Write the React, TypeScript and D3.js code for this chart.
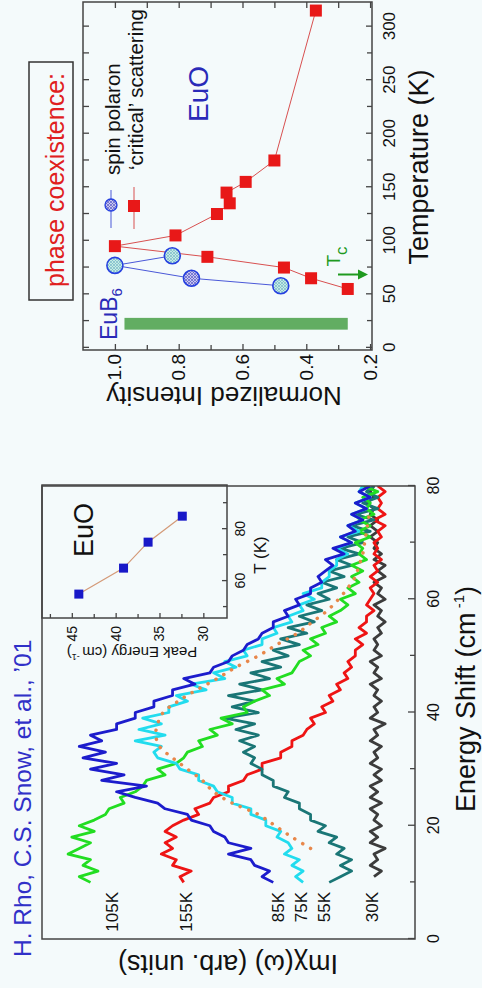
import React, { useEffect, useRef } from "react";
import * as d3 from "d3";

// ---- left panel: Raman spectra (Energy shift in cm-1) ----
const shift = [10, 11, 12, 13, 14, 15, 16, 17, 18, 19, 20, 21, 22, 23, 24, 25, 26, 27, 28, 29, 30,
  31, 32, 33, 34, 35, 36, 37, 38, 39, 40, 41, 42, 43, 44, 45, 46, 47, 48, 49, 50,
  51, 52, 53, 54, 55, 56, 57, 58, 59, 60, 61, 62, 63, 64, 65, 66, 67, 68, 69, 70,
  71, 72, 73, 74, 75, 76, 77, 78, 79, 80];

const int105 = [87, 90, 85, 89, 87, 93, 90, 87, 92, 86, 90, 86, 83, 82, 78, 79, 75, 73, 72, 67, 69,
  64, 62, 61, 57, 58, 53, 55, 49, 52, 45, 46, 43, 39, 41, 35, 37, 33, 32, 31, 28,
  30, 26, 28, 24, 25, 21, 23, 20, 18, 20, 16, 18, 15, 17, 14, 17, 13, 15, 14, 16,
  12, 15, 12, 15, 11, 13, 12, 14, 10, 14];
const int155 = [62, 63, 60, 65, 64, 68, 65, 67, 64, 67, 65, 62, 58, 59, 55, 54, 50, 50, 46, 45, 41,
  41, 36, 36, 33, 33, 30, 29, 27, 28, 24, 25, 22, 23, 20, 21, 18, 19, 17, 18, 16,
  16, 14, 16, 13, 15, 13, 13, 11, 13, 12, 11, 12, 10, 12, 10, 11, 9, 11, 10, 11,
  9, 10, 8, 11, 8, 10, 9, 10, 8, 10];
const int85 = [38, 41, 39, 43, 44, 50, 44, 50, 51, 54, 55, 60, 61, 67, 69, 75, 80, 72, 84, 78, 87,
  80, 89, 83, 90, 84, 87, 80, 80, 75, 75, 70, 70, 65, 65, 59, 62, 55, 54, 50, 49,
  46, 45, 42, 41, 38, 38, 34, 35, 31, 32, 28, 28, 25, 26, 24, 22, 24, 19, 22, 17,
  20, 16, 18, 14, 17, 13, 16, 12, 15, 12];
const int75 = [30, 32, 30, 33, 31, 35, 33, 34, 37, 36, 40, 40, 44, 44, 49, 49, 53, 54, 58, 58, 63,
  64, 69, 70, 68, 75, 67, 74, 68, 73, 66, 66, 61, 64, 56, 60, 51, 54, 48, 51, 45,
  46, 41, 41, 37, 38, 33, 34, 30, 31, 27, 30, 25, 25, 23, 23, 21, 21, 18, 21, 17,
  20, 15, 18, 14, 17, 13, 16, 12, 15, 14];
const int55 = [23, 20, 17, 20, 17, 21, 19, 23, 21, 26, 24, 28, 28, 31, 31, 35, 34, 38, 38, 41, 41,
  44, 43, 46, 43, 47, 42, 48, 43, 51, 42, 49, 43, 50, 41, 47, 39, 44, 36, 41, 34,
  38, 31, 36, 29, 34, 27, 31, 25, 29, 23, 26, 21, 25, 19, 23, 17, 21, 15, 20, 14,
  18, 12, 17, 11, 16, 10, 14, 10, 13, 11];
const shift30 = shift.slice(1);
const int30 = [11, 9, 12, 10, 11, 8, 12, 10, 12, 9, 11, 10, 12, 9, 12, 10, 12, 9, 11, 9,
  12, 10, 11, 9, 12, 10, 11, 8, 12, 10, 11, 9, 11, 10, 12, 9, 11, 10, 12, 9,
  11, 10, 11, 9, 10, 8, 10, 9, 11, 8, 10, 9, 11, 8, 10, 8, 11, 9, 11, 10,
  12, 10, 12, 10, 12, 11, 13, 11, 12, 11];

const peakShift = [16, 18, 20, 22, 24, 26, 28, 30, 32, 34, 36, 38, 40, 42, 44, 46, 48, 50, 52, 54,
  56, 58, 60, 62, 64, 66, 68, 70, 72, 74, 76];
const peakInt = [28, 33, 37.5, 42, 49, 54, 57, 61, 65, 68.5, 69.5, 69, 67.5, 63.5, 58.5, 53, 48, 42, 37, 31.5,
  27.5, 23.5, 20.5, 18, 16, 15, 14, 13.5, 13, 12.5, 12];

const shiftTicks = [0, 20, 40, 60, 80];
const shiftMinor = [10, 30, 50, 70];

// inset: peak energy vs T
const insetT = [55, 65, 75, 85];
const insetPeak = [44.2, 39.1, 36.3, 32.4];
const insetTTicks = [60, 80];
const insetTMinor = [50, 70, 90];
const insetETicks = [45, 40, 35, 30];
const insetEMinor = [47.5, 42.5, 37.5, 32.5];

// ---- right panel: normalized intensity vs temperature ----
const critT = [55, 65, 75, 85, 95, 105, 125, 135, 145, 155, 175, 315];
const critI = [0.27, 0.385, 0.47, 0.71, 1.0, 0.81, 0.68, 0.64, 0.65, 0.59, 0.5, 0.37];
const polT = [58, 65, 77, 86];
const polI = [0.48, 0.76, 1.0, 0.82];
const polDark = [false, true, false, false];
const bandT = [17, 28];
const bandI = [0.27, 0.97];
const tcT = 68.5;
const tempTicks = [0, 50, 100, 150, 200, 250, 300];
const tempMinor = [25, 75, 125, 175, 225, 275];
const intTicks = [1.0, 0.8, 0.6, 0.4, 0.2];
const intMinor = [0.9, 0.7, 0.5, 0.3];

const FONT = "'Liberation Sans', Arial, Helvetica, sans-serif";

export default function App() {
  const ref = useRef<SVGSVGElement>(null);

  useEffect(() => {
    const W = 482;
    const H = 988;
    const svg = d3.select(ref.current);
    svg.selectAll("*").remove();
    svg.append("rect").attr("width", W).attr("height", H).attr("fill", "#f4fafb");

    const defs = svg.append("defs");
    const pat = (id: string, bg: string, ln: string) => {
      const p = defs.append("pattern").attr("id", id).attr("patternUnits", "userSpaceOnUse")
        .attr("width", 3).attr("height", 3);
      p.append("rect").attr("width", 3).attr("height", 3).attr("fill", bg);
      p.append("path").attr("d", "M0,0L3,3M3,0L0,3").attr("stroke", ln).attr("stroke-width", 0.7);
    };
    pat("hatchLight", "#c4ece4", "#7ab8c8");
    pat("hatchDark", "#c8c8ee", "#5a5ac8");

    // whole figure is laid out landscape (988 x 482) and turned a quarter turn
    const g = svg.append("g").attr("transform", `translate(0,${H}) rotate(-90)`)
      .attr("font-family", FONT);

    // ================= left panel =================
    const x = d3.scaleLinear().domain([0, 80]).range([49, 502]);
    const y = d3.scaleLinear().domain([0, 100]).range([415, 42]);

    defs.append("clipPath").attr("id", "mainClip").append("rect")
      .attr("x", 49).attr("y", 42).attr("width", 453).attr("height", 373);

    const line = d3.line<[number, number]>().x(d => x(d[0])).y(d => y(d[1]));

    const series = [
      { e: shift30, v: int30, color: "#3c3c3c" },
      { e: shift, v: int155, color: "#ee1414" },
      { e: shift, v: int55, color: "#1a7676" },
      { e: shift, v: int105, color: "#22dd22" },
      { e: shift, v: int75, color: "#22dcee" },
      { e: shift, v: int85, color: "#1c1ccc" },
    ];
    series.forEach(s => {
      g.append("path")
        .datum(s.e.map((e, i) => [e, s.v[i]] as [number, number]))
        .attr("d", line)
        .attr("fill", "none")
        .attr("stroke", s.color)
        .attr("stroke-width", 2.8)
        .attr("stroke-linejoin", "round")
        .attr("clip-path", "url(#mainClip)");
    });

    g.append("path")
      .datum(peakShift.map((e, i) => [e, peakInt[i]] as [number, number]))
      .attr("d", line.curve(d3.curveCatmullRom))
      .attr("fill", "none")
      .attr("stroke", "#e8874a")
      .attr("stroke-width", 3.5)
      .attr("stroke-linecap", "round")
      .attr("stroke-dasharray", "0.1,9");

    // inset box (drawn over curves)
    const ix = d3.scaleLinear().domain([45.8, 97]).range([370, 503]);
    const iy = d3.scaleLinear().domain([27.3, 48.4]).range([227, 42]);
    g.append("rect").attr("x", 370).attr("y", 42).attr("width", 133).attr("height", 185)
      .attr("fill", "#f4fafb").attr("stroke", "#444").attr("stroke-width", 1.5);

    // main frame
    g.append("rect").attr("x", 49).attr("y", 42).attr("width", 453).attr("height", 373)
      .attr("fill", "none").attr("stroke", "#444").attr("stroke-width", 1.5);

    const styleAxis = (ax: d3.Selection<SVGGElement, unknown, null, undefined>, size: number) => {
      ax.select(".domain").remove();
      ax.attr("font-family", FONT).attr("font-size", size);
      ax.selectAll("line").attr("stroke", "#444").attr("stroke-width", 1.3);
      ax.selectAll("text").attr("fill", "#111");
    };

    const xAx = g.append("g").attr("transform", "translate(0,415)")
      .call(d3.axisBottom(x).tickValues(shiftTicks).tickSizeInner(-7).tickSizeOuter(0).tickPadding(13));
    styleAxis(xAx, 16);
    const xAxM = g.append("g").attr("transform", "translate(0,415)")
      .call(d3.axisBottom(x).tickValues(shiftMinor).tickSizeInner(-5).tickSizeOuter(0).tickFormat(() => ""));
    styleAxis(xAxM, 16);

    const title = g.append("text").attr("x", 289).attr("y", 475).attr("text-anchor", "middle")
      .attr("font-size", 27).attr("fill", "#111");
    title.append("tspan").text("Energy Shift (cm");
    title.append("tspan").attr("dy", -11).attr("font-size", 15).text(" -1");
    title.append("tspan").attr("dy", 11).text(")");

    g.append("text").attr("transform", "translate(33,228) rotate(-90)").attr("text-anchor", "middle")
      .attr("font-size", 27).attr("fill", "#111").text("Imχ(ω) (arb. units)");

    g.append("text").attr("x", 31).attr("y", 31).attr("font-size", 24.5).attr("fill", "#3030c8")
      .text("H. Rho, C.S. Snow, et al., \u201901");

    const curveLabels = [
      { t: "105K", y: 118 }, { t: "155K", y: 192 }, { t: "85K", y: 284 },
      { t: "75K", y: 307 }, { t: "55K", y: 330 }, { t: "30K", y: 378 },
    ];
    curveLabels.forEach(l => {
      g.append("text").attr("x", 96).attr("y", l.y).attr("text-anchor", "end")
        .attr("font-size", 17).attr("fill", "#111").text(l.t);
    });

    // inset contents
    const iLine = d3.line<[number, number]>().x(d => ix(d[0])).y(d => iy(d[1]));
    g.append("path").datum(insetT.map((t, i) => [t, insetPeak[i]] as [number, number]))
      .attr("d", iLine).attr("fill", "none").attr("stroke", "#d49a78").attr("stroke-width", 1.2);
    insetT.forEach((t, i) => {
      g.append("rect").attr("x", ix(t) - 4.5).attr("y", iy(insetPeak[i]) - 4.5)
        .attr("width", 9).attr("height", 9).attr("fill", "#1818c8");
    });
    const ixAx = g.append("g").attr("transform", "translate(0,227)")
      .call(d3.axisBottom(ix).tickValues(insetTTicks).tickSizeInner(-5).tickSizeOuter(0).tickPadding(8));
    styleAxis(ixAx, 14);
    const ixAxM = g.append("g").attr("transform", "translate(0,227)")
      .call(d3.axisBottom(ix).tickValues(insetTMinor).tickSizeInner(-4).tickSizeOuter(0).tickFormat(() => ""));
    styleAxis(ixAxM, 14);
    const iyAx = g.append("g").attr("transform", "translate(370,0)")
      .call(d3.axisLeft(iy).tickValues(insetETicks).tickSizeInner(-5).tickSizeOuter(0).tickPadding(8));
    styleAxis(iyAx, 14);
    const iyAxM = g.append("g").attr("transform", "translate(370,0)")
      .call(d3.axisLeft(iy).tickValues(insetEMinor).tickSizeInner(-4).tickSizeOuter(0).tickFormat(() => ""));
    styleAxis(iyAxM, 14);

    g.append("text").attr("x", 433).attr("y", 266).attr("text-anchor", "middle")
      .attr("font-size", 17).attr("fill", "#111").text("T (K)");
    const pk = g.append("text").attr("transform", "translate(341,132) rotate(-90)")
      .attr("text-anchor", "middle").attr("font-size", 15).attr("fill", "#111");
    pk.append("tspan").text("Peak Energy (cm");
    pk.append("tspan").attr("dy", -7).attr("font-size", 9).text("  -1");
    pk.append("tspan").attr("dy", 7).text(")");
    g.append("text").attr("x", 431).attr("y", 93).attr("font-size", 27).attr("fill", "#111").text("EuO");

    // ================= right panel =================
    const tx = d3.scaleLinear().domain([-2, 323]).range([638, 986]);
    const ny = d3.scaleLinear().domain([0.194, 1.1]).range([372, 83]);

    g.append("rect").attr("x", tx(bandT[0])).attr("y", ny(bandI[1]))
      .attr("width", tx(bandT[1]) - tx(bandT[0])).attr("height", ny(bandI[0]) - ny(bandI[1]))
      .attr("fill", "#62ad62");

    g.append("rect").attr("x", 638).attr("y", 83).attr("width", 348).attr("height", 289)
      .attr("fill", "none").attr("stroke", "#444").attr("stroke-width", 1.5);

    const tAx = g.append("g").attr("transform", "translate(0,372)")
      .call(d3.axisBottom(tx).tickValues(tempTicks).tickSizeInner(-6).tickSizeOuter(0).tickPadding(11));
    styleAxis(tAx, 17);
    const tAxM = g.append("g").attr("transform", "translate(0,372)")
      .call(d3.axisBottom(tx).tickValues(tempMinor).tickSizeInner(-5).tickSizeOuter(0).tickFormat(() => ""));
    styleAxis(tAxM, 17);
    const tAxTop = g.append("g").attr("transform", "translate(0,83)")
      .call(d3.axisTop(tx).tickValues([...tempTicks, ...tempMinor]).tickSizeInner(-6).tickSizeOuter(0).tickFormat(() => ""));
    styleAxis(tAxTop, 17);
    const nAx = g.append("g").attr("transform", "translate(638,0)")
      .call(d3.axisLeft(ny).tickValues(intTicks).tickSizeInner(-6).tickSizeOuter(0).tickPadding(4)
        .tickFormat(d3.format(".1f") as any));
    styleAxis(nAx, 19);
    const nAxM = g.append("g").attr("transform", "translate(638,0)")
      .call(d3.axisLeft(ny).tickValues(intMinor).tickSizeInner(-5).tickSizeOuter(0).tickFormat(() => ""));
    styleAxis(nAxM, 19);
    const nAxR = g.append("g").attr("transform", "translate(986,0)")
      .call(d3.axisRight(ny).tickValues([...intTicks, ...intMinor]).tickSizeInner(-6).tickSizeOuter(0).tickFormat(() => ""));
    styleAxis(nAxR, 19);

    g.append("text").attr("x", 821).attr("y", 428).attr("text-anchor", "middle")
      .attr("font-size", 27).attr("fill", "#111").text("Temperature (K)");
    g.append("text").attr("transform", "translate(601,224) rotate(-90)").attr("text-anchor", "middle")
      .attr("font-size", 26).attr("fill", "#111").text("Normalized Intensity");

    const cLine = d3.line<[number, number]>().x(d => tx(d[0])).y(d => ny(d[1]));
    g.append("path").datum(critT.map((t, i) => [t, critI[i]] as [number, number]))
      .attr("d", cLine).attr("fill", "none").attr("stroke", "#d85050").attr("stroke-width", 1);
    g.append("path").datum(polT.map((t, i) => [t, polI[i]] as [number, number]))
      .attr("d", cLine).attr("fill", "none").attr("stroke", "#4a58d8").attr("stroke-width", 1);

    critT.forEach((t, i) => {
      g.append("rect").attr("x", tx(t) - 6).attr("y", ny(critI[i]) - 6)
        .attr("width", 12).attr("height", 12).attr("fill", "#e81818");
    });
    polT.forEach((t, i) => {
      g.append("circle").attr("cx", tx(t)).attr("cy", ny(polI[i])).attr("r", 8)
        .attr("fill", polDark[i] ? "url(#hatchDark)" : "url(#hatchLight)")
        .attr("stroke", "#2640e0").attr("stroke-width", 1.6);
    });

    // legend
    g.append("line").attr("x1", 760).attr("x2", 798).attr("y1", 111).attr("y2", 111)
      .attr("stroke", "#4a58d8").attr("stroke-width", 1);
    g.append("circle").attr("cx", 783).attr("cy", 111).attr("r", 6)
      .attr("fill", "url(#hatchDark)").attr("stroke", "#2640e0").attr("stroke-width", 1.3);
    g.append("line").attr("x1", 759).attr("x2", 801).attr("y1", 134).attr("y2", 134)
      .attr("stroke", "#d85050").attr("stroke-width", 1);
    g.append("rect").attr("x", 776).attr("y", 128).attr("width", 12).attr("height", 12).attr("fill", "#e81818");
    g.append("text").attr("x", 813).attr("y", 120).attr("font-size", 20.5).attr("fill", "#111").text("spin polaron");
    g.append("text").attr("x", 818).attr("y", 143).attr("font-size", 20.5).attr("fill", "#111")
      .text("\u2018critical\u2019 scattering");

    g.append("text").attr("x", 866).attr("y", 208).attr("font-size", 28).attr("fill", "#2a2ab8").text("EuO");
    const eb = g.append("text").attr("x", 648).attr("y", 117).attr("font-size", 23).attr("fill", "#2a2ab8");
    eb.append("tspan").text("EuB");
    eb.append("tspan").attr("dy", 5).attr("font-size", 15).text("6");

    g.append("rect").attr("x", 688).attr("y", 29).attr("width", 238).attr("height", 44)
      .attr("fill", "none").attr("stroke", "#333").attr("stroke-width", 1.5);
    g.append("text").attr("x", 701).attr("y", 64).attr("font-size", 25).attr("fill", "#e02020")
      .text("phase coexistence:");

    // Tc arrow
    g.append("line").attr("x1", tx(tcT)).attr("x2", tx(tcT)).attr("y1", 338).attr("y2", 359)
      .attr("stroke", "#1f9a1f").attr("stroke-width", 2);
    g.append("path").attr("d", `M${tx(tcT) - 5},358L${tx(tcT) + 5},358L${tx(tcT)},368Z`).attr("fill", "#1f9a1f");
    const tc = g.append("text").attr("x", tx(tcT) + 8).attr("y", 340).attr("font-size", 19).attr("fill", "#1f9a1f");
    tc.append("tspan").text("T");
    tc.append("tspan").attr("dy", 7).attr("font-size", 17).text("c");
  }, []);

  return (
    <div style={{ position: "absolute", left: 0, top: 0 }}>
      <svg ref={ref} width={482} height={988} style={{ display: "block" }} />
    </div>
  );
}
